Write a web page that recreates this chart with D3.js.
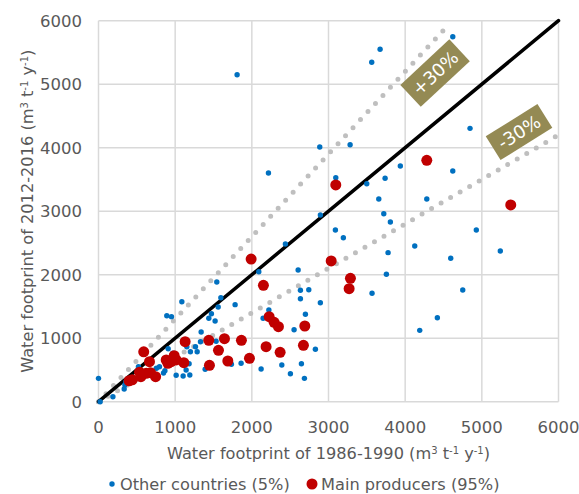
<!DOCTYPE html>
<html>
<head>
<meta charset="utf-8">
<script src="https://cdn.jsdelivr.net/npm/d3@7"></script>
<style>
    body { margin: 0; background: #fff; }
    text { font-family: "DejaVu Sans", Verdana, sans-serif; fill: #595959; }
</style>
</head>
<body>
<svg id="chart" width="579" height="494"></svg>
<script>
'use strict';

/* global d3 */

// Other countries (5%): [1986-1990, 2012-2016]
var OTHER_COUNTRIES = [
    [1808, 5150], [2886, 4011], [2217, 3602], [3095, 3528], [4621, 5748],
    [3673, 5550], [3564, 5345], [4846, 4305], [3282, 4047], [3937, 3712],
    [4621, 3633], [3738, 3518], [3499, 3433], [3656, 3192], [4282, 3192],
    [3721, 2961], [3807, 2830], [3090, 2704], [3194, 2583], [4928, 2704],
    [4125, 2452], [3777, 2347], [5241, 2373], [4594, 2258], [3755, 2006],
    [3568, 1707], [4751, 1759], [4420, 1323], [4190, 1124], [2894, 2940],
    [2438, 2483], [2091, 2047], [2604, 2074], [2634, 1754], [2743, 1764],
    [2634, 1622], [2894, 1559], [2699, 1376], [2222, 1444], [2147, 1313],
    [2551, 1134], [2829, 825], [2647, 598], [2391, 578], [2121, 515],
    [2503, 441], [2686, 368], [1860, 605], [1734, 589], [1782, 1528],
    [1596, 1638], [1561, 1491], [1543, 1885], [1473, 1386], [1439, 1313],
    [1521, 1271], [1339, 1098], [1534, 951], [1330, 945], [1265, 866],
    [1199, 787], [1287, 787], [1182, 598], [1143, 499], [1191, 420],
    [1104, 405], [1013, 416], [891, 1354], [952, 1339], [1087, 1575],
    [909, 835], [848, 452], [866, 488], [795, 551], [756, 526],
    [521, 551], [335, 200], [344, 263], [357, 315], [188, 79],
    [0, 368], [22, 0], [1391, 510], [1152, 866], [970, 762]
];

// Main producers (95%)
var MAIN_PRODUCERS = [
    [5377, 3098], [4282, 3801], [3095, 3413], [3035, 2216], [3286, 1943],
    [3269, 1780], [1991, 2247], [2151, 1833], [2226, 1339], [2291, 1250],
    [2347, 1181], [2691, 1192], [2673, 888], [2186, 866], [2369, 778],
    [1969, 683], [1864, 967], [1687, 641], [1565, 809], [1643, 992],
    [1439, 967], [1447, 573], [1130, 945], [1113, 614], [987, 724],
    [1013, 657], [948, 630], [883, 657], [905, 605], [590, 785],
    [665, 630], [745, 394], [678, 457], [622, 447], [553, 394],
    [535, 465], [400, 330], [440, 345]
];

// reference lines: 1:1, +30%, -30%
var REF_LINES = [
    {name: "+30%", points: [[0, 0], [4560, 5928]]},
    {name: "-30%", points: [[0, 0], [6000, 4200]]},
    {name: "1:1", points: [[0, 0], [6000, 6000]]}
];

var LABELS = [
    {text: "+30%", x: 4390, y: 5176, angle: -43, w: 67, h: 30},
    {text: "-30%", x: 5485, y: 4247, angle: -32, w: 61, h: 28}
];

var X_TICKS = [0, 1000, 2000, 3000, 4000, 5000, 6000];
var Y_TICKS = [0, 1000, 2000, 3000, 4000, 5000, 6000];

var svg = d3.select("#chart");

var x = d3.scaleLinear().domain([0, 6000]).range([98.5, 558.5]);
var y = d3.scaleLinear().domain([0, 6000]).range([401.7, 20.7]);

// grid
var grid = svg.append("g").attr("class", "grid");
grid.selectAll("line.v").data(X_TICKS).enter()
    .append("line")
    .attr("class", "v")
    .attr("x1", function (d) { return x(d); })
    .attr("x2", function (d) { return x(d); })
    .attr("y1", y(0))
    .attr("y2", y(6000))
    .style("stroke", "#d9d9d9")
    .style("stroke-width", 1.5);
grid.selectAll("line.h").data(Y_TICKS).enter()
    .append("line")
    .attr("class", "h")
    .attr("y1", function (d) { return y(d); })
    .attr("y2", function (d) { return y(d); })
    .attr("x1", x(0))
    .attr("x2", x(6000))
    .style("stroke", "#d9d9d9")
    .style("stroke-width", 1.5);

// tick labels
svg.append("g").selectAll("text").data(X_TICKS).enter()
    .append("text")
    .attr("x", function (d) { return x(d); })
    .attr("y", 433)
    .attr("text-anchor", "middle")
    .style("font-size", "16.5px")
    .text(function (d) { return d; });

svg.append("g").selectAll("text").data(Y_TICKS).enter()
    .append("text")
    .attr("x", 82)
    .attr("y", function (d) { return y(d) + 6; })
    .attr("text-anchor", "end")
    .style("font-size", "16.5px")
    .text(function (d) { return d; });

// axis titles with superscripts
function unitTitle(sel, prefix) {
    sel.append("tspan").text(prefix + " (m");
    sel.append("tspan").attr("baseline-shift", "super").style("font-size", "10px").text("3");
    sel.append("tspan").text(" t");
    sel.append("tspan").attr("baseline-shift", "super").style("font-size", "10px").text("-1");
    sel.append("tspan").text(" y");
    sel.append("tspan").attr("baseline-shift", "super").style("font-size", "10px").text("-1");
    sel.append("tspan").text(")");
}

var xTitle = svg.append("text")
    .attr("x", x(3000))
    .attr("y", 459)
    .attr("text-anchor", "middle")
    .style("font-size", "16.2px");
unitTitle(xTitle, "Water footprint of 1986-1990");

var yTitle = svg.append("text")
    .attr("transform", "translate(33," + y(3000) + ") rotate(-90)")
    .attr("text-anchor", "middle")
    .style("font-size", "16.2px");
unitTitle(yTitle, "Water footprint of 2012-2016");

// reference lines
var line = d3.line()
    .x(function (d) { return x(d[0]); })
    .y(function (d) { return y(d[1]); });

svg.append("g").selectAll("path").data(REF_LINES).enter()
    .append("path")
    .attr("d", function (d) { return line(d.points); })
    .style("fill", "none")
    .style("stroke", function (d) { return d.name == "1:1" ? "#000" : "#bfbfbf"; })
    .style("stroke-width", function (d) { return d.name == "1:1" ? 3.5 : 5; })
    .style("stroke-linecap", "round")
    .style("stroke-dasharray", function (d) { return d.name == "1:1" ? null : "0 11"; });

// points
svg.append("g").selectAll("circle").data(OTHER_COUNTRIES).enter()
    .append("circle")
    .attr("cx", function (d) { return x(d[0]); })
    .attr("cy", function (d) { return y(d[1]); })
    .attr("r", 2.7)
    .style("fill", "#0070c0");

svg.append("g").selectAll("circle").data(MAIN_PRODUCERS).enter()
    .append("circle")
    .attr("cx", function (d) { return x(d[0]); })
    .attr("cy", function (d) { return y(d[1]); })
    .attr("r", 5.5)
    .style("fill", "#c00000");

// +/-30% labels
var gLabel = svg.append("g").selectAll("g").data(LABELS).enter()
    .append("g")
    .attr("transform", function (d) {
        return "translate(" + x(d.x) + "," + y(d.y) + ") rotate(" + d.angle + ")";
    });
gLabel.append("rect")
    .attr("x", function (d) { return -d.w / 2; })
    .attr("y", function (d) { return -d.h / 2; })
    .attr("width", function (d) { return d.w; })
    .attr("height", function (d) { return d.h; })
    .style("fill", "#948a54");
gLabel.append("text")
    .attr("text-anchor", "middle")
    .attr("y", 6.5)
    .style("font-size", "18px")
    .style("fill", "#fff")
    .text(function (d) { return d.text; });

// legend
var legend = svg.append("g").attr("transform", "translate(0,484)");
legend.append("circle").attr("cx", 112).attr("cy", 0).attr("r", 2.7).style("fill", "#0070c0");
legend.append("text").attr("x", 120).attr("y", 5.6).style("font-size", "16.2px").text("Other countries (5%)");
legend.append("circle").attr("cx", 312).attr("cy", 0).attr("r", 5.5).style("fill", "#c00000");
legend.append("text").attr("x", 321).attr("y", 5.6).style("font-size", "16.2px").text("Main producers (95%)");
</script>
</body>
</html>
